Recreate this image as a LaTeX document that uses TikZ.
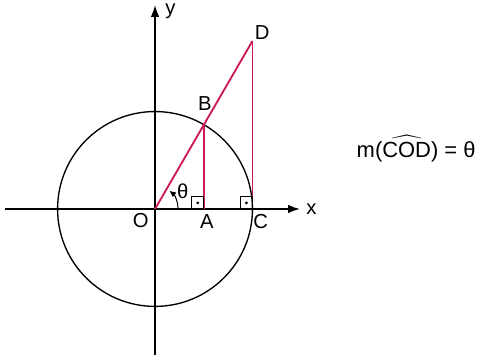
\documentclass[tikz,border=0pt]{standalone}
\usepackage{amsmath}
\usepackage{fontspec}
\setmainfont{Liberation Sans}
\usetikzlibrary{arrows.meta}
\definecolor{chordred}{RGB}{205,25,85}

\begin{document}
\begin{tikzpicture}[font=\fontsize{12}{14}\selectfont,
    axis/.style={line width=0.9pt, -{Latex[length=7pt,width=5pt]}},
    redline/.style={chordred, line width=1.1pt},
    rightmark/.style={line width=0.6pt}]
            \useasboundingbox (-3.23,-3.15) rectangle (6.875,4.354);
            % axes
            \draw[axis] (-3.125,0) -- (3.02,0) node[right] {x};
            \draw[axis] (0,-3.04) -- (0,4.25);
            \node (ylab) at (0.32,4.12) {y};
            % unit circle
            \draw[line width=0.8pt] (0,0) circle (2.03);
            \coordinate (O) at (0,0);
            \coordinate (A) at (1.015,0);
            \coordinate (B) at (60:2.03);
            \coordinate (C) at (2.03,0);
            \coordinate (D) at (2.03,3.5);
            % lines OD, BA, DC
            \draw[redline] (O) -- (D);
            \draw[redline] (B) -- (A);
            \draw[redline] (D) -- (C);
            % labels
            \node (Olab) at (-0.3,-0.25) {O};
            \node (Alab) at (1.08,-0.27) {A};
            \node (Blab) at (1.04,2.2) {B};
            \node (Clab) at (2.2,-0.27) {C};
            \node (Dlab) at (2.23,3.67) {D};
            % angle
            \draw[line width=0.6pt, -{Latex[length=4pt,width=3.5pt]}] (0.48,0.02) arc (2:52:0.48);
            \node (theta) at (0.58,0.36) {θ};
            % right angles
            \draw[rightmark] (0.765,0) rectangle (1.015,0.25);
            \fill (0.89,0.125) circle (0.9pt);
            \draw[rightmark] (1.78,0) rectangle (2.03,0.25);
            \fill (1.905,0.125) circle (0.9pt);
            % measure
            \node[font=\fontsize{13}{15}\selectfont] (measure) at (5.44,1.25) {m($\widehat{\text{COD}}$) = θ};
        \end{tikzpicture}
\end{document}
